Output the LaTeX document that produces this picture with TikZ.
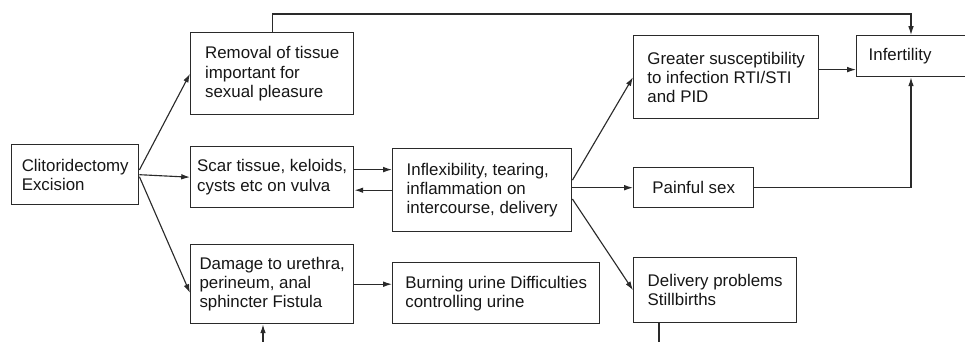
\documentclass[tikz,border=0pt]{standalone}
\usepackage{fontspec}
\setmainfont{Liberation Sans}
\usepackage{tikz}
\usetikzlibrary{arrows.meta, positioning, calc}
\definecolor{fgm-line}{HTML}{2a2a2a}
\definecolor{fgm-text}{HTML}{161616}

\begin{document}
\begin{tikzpicture}[
    effect/.style={draw=fgm-line, line width=1pt, anchor=north west, inner sep=0pt, align=left,
                   text=fgm-text, font=\fontsize{12}{13.6}\selectfont},
    link/.style={draw=fgm-line, line width=0.8pt, -{Latex[length=2.2mm, width=1.4mm]}}
]
    \useasboundingbox (0,0) rectangle (24.125,8.55);
    \clip (0,0) rectangle (24.125,8.55);

    \node[effect, minimum width=3.175cm, minimum height=1.5cm] (clit) at (0.275,4.95) {Clitoridectomy\\Excision};
    \node[effect, minimum width=4.075cm, minimum height=2.05cm] (removal) at (4.75,7.75) {Removal of tissue\\important for\\sexual pleasure};
    \node[effect, minimum width=4.075cm, minimum height=1.525cm] (scar) at (4.75,4.9) {Scar tissue, keloids,\\cysts etc on vulva};
    \node[effect, minimum width=4.075cm, minimum height=1.975cm] (damage) at (4.75,2.45) {Damage to urethra,\\perineum, anal\\sphincter Fistula};
    \node[effect, minimum width=4.475cm, minimum height=2.075cm] (inflex) at (9.8,4.85) {Inflexibility, tearing,\\inflammation on\\intercourse, delivery};
    \node[effect, minimum width=5.175cm, minimum height=1.525cm] (burning) at (9.8,2.0) {Burning urine Difficulties\\controlling urine};
    \node[effect, minimum width=4.625cm, minimum height=2.075cm] (greater) at (15.825,7.675) {Greater susceptibility\\to infection RTI/STI\\and PID};
    \node[effect, minimum width=3.0cm, minimum height=1.0cm] (painful) at (15.825,4.375) {Painful sex};
    \node[effect, minimum width=4.075cm, minimum height=1.625cm] (delivery) at (15.825,2.125) {Delivery problems\\Stillbirths};
    \node[effect, minimum height=1.025cm, inner xsep=0.3cm, text width=2.6cm] (infert) at (21.4,7.675) {Infertility};

    \coordinate (fistin) at (6.575,-0.1);
    \coordinate (delout) at (16.475,-0.1);

    \draw[link] ([yshift=0.12cm]clit.east) -- (removal.west);
    \draw[link] (clit.east) -- (scar.west);
    \draw[link] ([yshift=-0.05cm]clit.east) -- ([yshift=-0.22cm]damage.west);
    \draw[link] ([yshift=0.19cm]scar.east) -- ([yshift=0.19cm]scar.east -| inflex.west);
    \draw[link] (inflex.west) -- (inflex.west -| scar.east);
    \draw[link] (damage.east) -- (damage.east -| burning.west);
    \draw[link] ([yshift=0.25cm]inflex.east) -- (greater.west);
    \draw[link] (inflex.east |- painful.west) -- (painful.west);
    \draw[link] ([yshift=-0.22cm]inflex.east) -- (delivery.west);
    \draw[link] ([yshift=0.19cm]greater.east) -- ([yshift=0.19cm]greater.east -| infert.west);
    \draw[link] (removal.north) -- ++(0,0.45) -| ([xshift=1.375cm]infert.north west);
    \draw[link] (painful.east) -| ([xshift=1.375cm]infert.south west);
    \draw[link] (fistin) -- (fistin |- damage.south);
    \draw[draw=fgm-line, line width=0.8pt] (delout |- delivery.south) -- (delout);
\end{tikzpicture}
\end{document}
